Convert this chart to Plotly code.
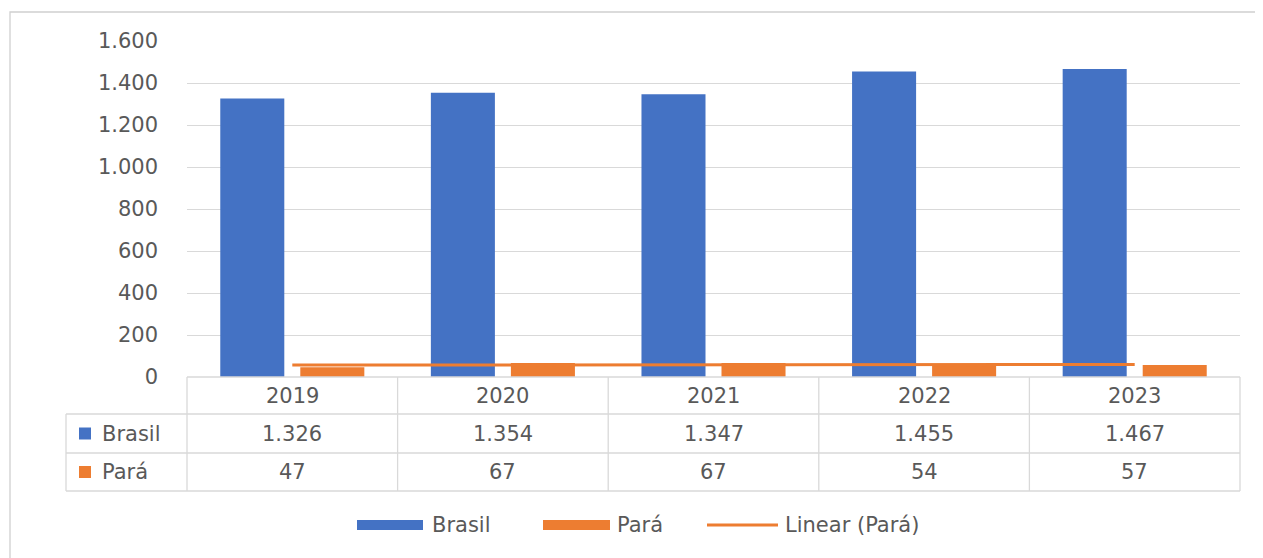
import plotly.graph_objects as go

anos = ["2019", "2020", "2021", "2022", "2023"]
brasil = [1326, 1354, 1347, 1455, 1467]
para = [47, 67, 67, 54, 57]
y_ticks = [0, 200, 400, 600, 800, 1000, 1200, 1400, 1600]

AZUL = "#4472C4"
LARANJA = "#ED7D31"
CINZA = "#595959"
LINHA = "#D9D9D9"
FONTE = "DejaVu Sans"
TAM = 21

# a página tem margem de 8px no body; a figura fica deslocada
OFF = 8
W, H = 1263 - OFF, 558 - OFF
L, R, T, B = 187, 1240, 41, 377


def px(x):
    return (x - L) / (R - L)


def py(y):
    return (B - y) / (B - T)


def fmt(v):
    return f"{v:,}".replace(",", ".")


# tendência linear do Pará (mínimos quadrados)
xs = list(range(1, len(para) + 1))
mx = sum(xs) / len(xs)
my = sum(para) / len(para)
slope = sum((x - mx) * (y - my) for x, y in zip(xs, para)) / sum((x - mx) ** 2 for x in xs)
tendencia = [my + slope * (x - mx) for x in xs]

fig = go.Figure()
fig.add_trace(go.Bar(x=xs, y=brasil, name="Brasil", marker=dict(color=AZUL, line=dict(width=0))))
fig.add_trace(go.Bar(x=xs, y=para, name="Pará", marker=dict(color=LARANJA, line=dict(width=0))))
fig.add_trace(go.Scatter(x=xs, y=tendencia, mode="lines", name="Linear (Pará)",
                         line=dict(color=LARANJA, width=3)))

shapes = []
annotations = []


def hline(x0, x1, y):
    shapes.append(dict(type="line", xref="paper", yref="paper", x0=px(x0), x1=px(x1),
                       y0=py(y), y1=py(y), line=dict(color=LINHA, width=1.3)))


def vline(x, y0, y1):
    shapes.append(dict(type="line", xref="paper", yref="paper", x0=px(x), x1=px(x),
                       y0=py(y0), y1=py(y1), line=dict(color=LINHA, width=1.3)))


def texto(x, y, txt, xref="paper", xanchor="center"):
    annotations.append(dict(x=x, xref=xref, y=py(y), yref="paper", text=txt,
                            xanchor=xanchor, yanchor="middle", showarrow=False,
                            font=dict(size=TAM, color=CINZA, family=FONTE)))


# borda do gráfico
shapes.append(dict(type="rect", xref="paper", yref="paper", x0=px(10), x1=px(1275),
                   y0=py(12), y1=py(575), line=dict(color="#D0D0D0", width=1.3)))

# tabela de dados
hline(L, R, 377)
for y in (414, 453, 491):
    hline(66, R, y)
vline(66, 414, 491)
col_edges = [L + i * (R - L) / len(anos) for i in range(len(anos) + 1)]
for x in col_edges:
    vline(x, 377, 491)

rows = [(433.5, "Brasil", AZUL, brasil), (472, "Pará", LARANJA, para)]
for x, ano in zip(xs, anos):
    texto(x, 395.5, ano, xref="x")
for yc, nome, cor, vals in rows:
    shapes.append(dict(type="rect", xref="paper", yref="paper", x0=px(79), x1=px(91),
                       y0=py(yc + 6), y1=py(yc - 6), fillcolor=cor, line=dict(width=0)))
    texto(px(100), yc, nome, xanchor="left")
    for x, v in zip(xs, vals):
        texto(x, yc, fmt(v), xref="x")

# legenda
leg_y = 525
shapes.append(dict(type="rect", xref="paper", yref="paper", x0=px(357), x1=px(423),
                   y0=py(leg_y + 5), y1=py(leg_y - 5), fillcolor=AZUL, line=dict(width=0)))
shapes.append(dict(type="rect", xref="paper", yref="paper", x0=px(543), x1=px(610),
                   y0=py(leg_y + 5), y1=py(leg_y - 5), fillcolor=LARANJA, line=dict(width=0)))
shapes.append(dict(type="line", xref="paper", yref="paper", x0=px(707), x1=px(778),
                   y0=py(leg_y), y1=py(leg_y), line=dict(color=LARANJA, width=3)))
for x0, txt in ((430, "Brasil"), (615, "Pará"), (783, "Linear (Pará)")):
    texto(px(x0), leg_y, txt, xanchor="left")

fig.update_layout(
    width=W,
    height=H,
    margin=dict(l=L - OFF, r=1263 - R, t=T - OFF, b=558 - B, pad=0),
    paper_bgcolor="white",
    plot_bgcolor="white",
    barmode="group",
    bargap=0.24,
    bargroupgap=0.2,
    separators=",.",
    showlegend=False,
    font=dict(family=FONTE, color=CINZA, size=TAM),
    xaxis=dict(range=[0.5, 5.5], showticklabels=False, showgrid=False, zeroline=False,
               showline=False, ticks=""),
    yaxis=dict(range=[0, 1600], tickvals=y_ticks, tickformat=",", showgrid=True,
               gridcolor=LINHA, gridwidth=1.3, zeroline=False, showline=False,
               ticklabelstandoff=28, tickfont=dict(size=TAM, color=CINZA, family=FONTE)),
    shapes=shapes,
    annotations=annotations,
)

fig.write_html("out.html")
